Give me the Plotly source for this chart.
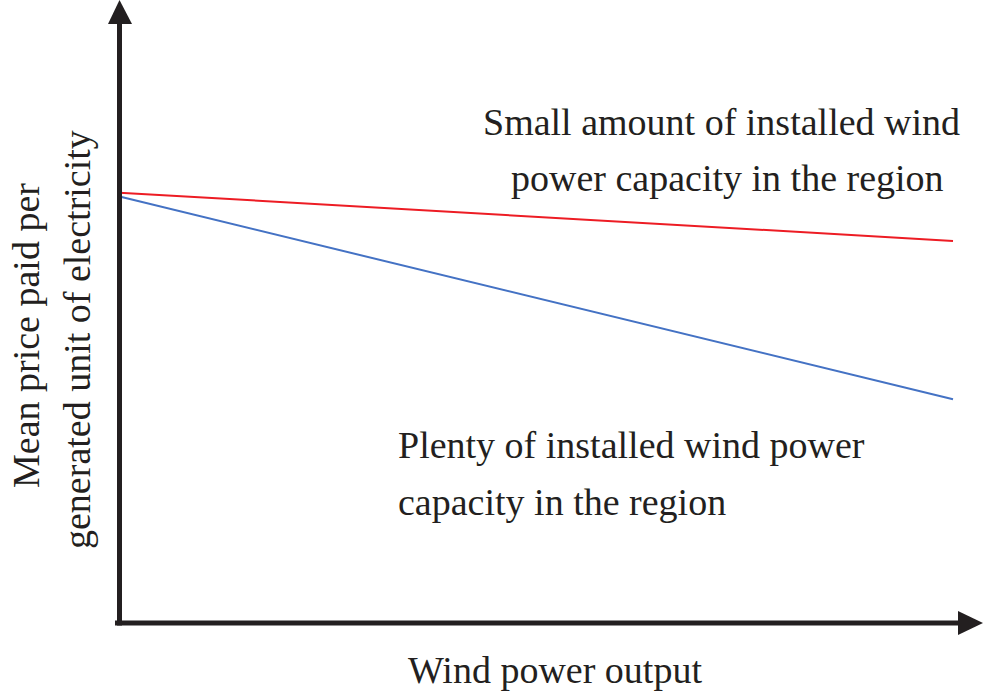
import plotly.graph_objects as go

# conceptual chart: wind output (0..1) vs mean price (relative)
wind_output = [0.0, 1.0]
price_small_capacity = [1.0, 0.888]
price_plenty_capacity = [0.991, 0.52]

W, H = 983, 692
# pixel placement of the origin and scale
X0_PX, X1_PX = 119.5, 953.0
Y0_PX, Y1_PX = 623.0, 192.7


def px_x(p):
    return (p - X0_PX) / (X1_PX - X0_PX)


def px_y(p):
    return (Y0_PX - p) / (Y0_PX - Y1_PX)


FONT = "Liberation Serif"
AXIS_COLOR = "#231f20"

fig = go.Figure()
fig.add_trace(go.Scatter(x=wind_output, y=price_small_capacity, mode="lines",
                         line=dict(color="#ed1c24", width=2), showlegend=False))
fig.add_trace(go.Scatter(x=wind_output, y=price_plenty_capacity, mode="lines",
                         line=dict(color="#4472c4", width=2), showlegend=False))

# axes drawn with arrows
shapes = [
    dict(type="line", xref="x", yref="y", x0=0, x1=0, y0=px_y(625.5), y1=px_y(22),
         line=dict(color=AXIS_COLOR, width=5)),
    dict(type="line", xref="x", yref="y", x0=px_x(115), x1=px_x(960), y0=0, y1=0,
         line=dict(color=AXIS_COLOR, width=5)),
    dict(type="path", xref="x", yref="y",
         path=f"M {px_x(108)},{px_y(24)} L {px_x(119.5)},{px_y(0)} L {px_x(132)},{px_y(24)} Z",
         fillcolor=AXIS_COLOR, line=dict(width=0)),
    dict(type="path", xref="x", yref="y",
         path=f"M {px_x(958)},{px_y(611)} L {px_x(983)},{px_y(623)} L {px_x(958)},{px_y(635)} Z",
         fillcolor=AXIS_COLOR, line=dict(width=0)),
]

ann_font = dict(family=FONT, size=38, color="#231f20")
annotations = [
    dict(x=px_x(481), y=px_y(122), text="Small amount of installed wind", xanchor="left"),
    dict(x=px_x(509), y=px_y(178), text="power capacity in the region", xanchor="left"),
    dict(x=px_x(396), y=px_y(445), text="Plenty of installed wind power", xanchor="left"),
    dict(x=px_x(396), y=px_y(502), text="capacity in the region", xanchor="left"),
    dict(x=px_x(555), y=px_y(670), text="Wind power output", xanchor="center"),
    dict(x=px_x(26), y=px_y(336), text="Mean price paid per", xanchor="center", textangle=-90),
    dict(x=px_x(77), y=px_y(340), text="generated unit of electricity", xanchor="center", textangle=-90),
]
for a in annotations:
    a.update(xref="x", yref="y", yanchor="middle", showarrow=False, font=ann_font)

fig.update_layout(
    width=W, height=H,
    margin=dict(l=0, r=0, t=0, b=0),
    plot_bgcolor="white", paper_bgcolor="white",
    xaxis=dict(range=[px_x(0), px_x(W)], visible=False, fixedrange=True),
    yaxis=dict(range=[px_y(H), px_y(0)], visible=False, fixedrange=True),
    shapes=shapes,
    annotations=annotations,
)

# drop the page's default body margin so the figure sits at the top-left corner
fig.write_html("out.html", config={"displayModeBar": False},
               post_script="document.body.style.margin='0';")
